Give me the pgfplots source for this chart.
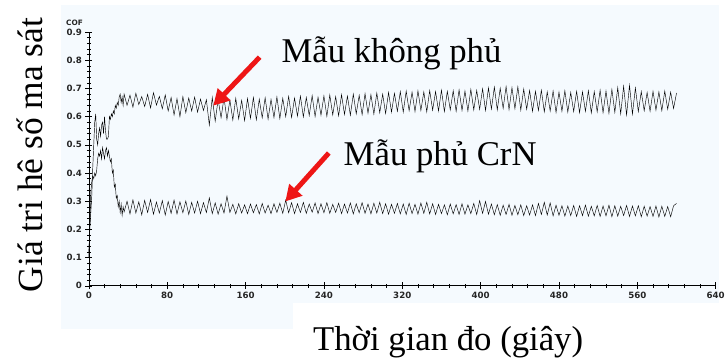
\documentclass[border=0pt]{standalone}
\usepackage{fontspec}
\setmainfont{Liberation Serif}
\newfontfamily\tickfont{DejaVu Sans}
\usepackage{pgfplots}
\pgfplotsset{compat=1.18}
\usepackage{pgfplotstable}
\usetikzlibrary{arrows.meta}
\definecolor{bgblue}{RGB}{245,250,254}
\definecolor{arrowred}{RGB}{238,22,22}

\pgfplotstableread{
t u l
0 0.12 0.10
1 0.20 0.22
2 0.26 0.33
3 0.32 0.37
4 0.42 0.39
5 0.50 0.38
6 0.58 0.40
7 0.61 0.39
8 0.52 0.41
9 0.50 0.45
10 0.54 0.47
11 0.56 0.46
12 0.53 0.48
13 0.57 0.45
14 0.58 0.49
15 0.54 0.47
16 0.60 0.45
17 0.55 0.48
18 0.52 0.49
19 0.52 0.46
20 0.53 0.48
21 0.60 0.46
22 0.59 0.44
23 0.61 0.45
24 0.60 0.40
25 0.62 0.41
26 0.61 0.35
27 0.64 0.36
28 0.63 0.31
29 0.65 0.32
30 0.64 0.28
31 0.67 0.30
32 0.68 0.26
33 0.65 0.29
34 0.67 0.25
35 0.64 0.28
36 0.680 0.262
39 0.640 0.300
42 0.676 0.255
45 0.634 0.305
48 0.683 0.258
51 0.643 0.298
54 0.671 0.252
57 0.636 0.303
60 0.679 0.260
63 0.631 0.306
66 0.685 0.254
69 0.641 0.297
72 0.672 0.258
75 0.628 0.302
78 0.677 0.251
81 0.620 0.299
84 0.668 0.257
87 0.606 0.304
90 0.664 0.255
93 0.600 0.298
96 0.671 0.259
99 0.614 0.301
102 0.666 0.253
105 0.620 0.296
108 0.669 0.258
111 0.616 0.300
114 0.662 0.256
117 0.622 0.295
120 0.660 0.260
123 0.570 0.312
126 0.668 0.256
129 0.584 0.294
132 0.661 0.254
135 0.596 0.291
138 0.667 0.258
141 0.590 0.318
144 0.659 0.260
147 0.588 0.289
150 0.665 0.255
153 0.592 0.291
156 0.658 0.258
159 0.586 0.287
162 0.664 0.256
165 0.594 0.290
168 0.668 0.259
171 0.589 0.288
174 0.662 0.255
177 0.596 0.292
180 0.667 0.258
183 0.591 0.286
186 0.661 0.256
189 0.597 0.291
192 0.670 0.260
195 0.593 0.293
198 0.665 0.257
201 0.600 0.304
204 0.672 0.259
207 0.597 0.295
210 0.666 0.256
213 0.602 0.291
216 0.673 0.260
219 0.599 0.296
222 0.668 0.257
225 0.604 0.290
228 0.675 0.261
231 0.600 0.294
234 0.669 0.256
237 0.605 0.291
240 0.674 0.259
243 0.601 0.295
246 0.677 0.257
249 0.606 0.289
252 0.671 0.260
255 0.603 0.293
258 0.678 0.256
261 0.608 0.290
264 0.673 0.258
267 0.605 0.294
270 0.680 0.255
273 0.610 0.291
276 0.676 0.259
279 0.607 0.295
282 0.682 0.257
285 0.612 0.290
288 0.678 0.255
291 0.609 0.293
294 0.684 0.258
297 0.614 0.296
300 0.680 0.256
303 0.611 0.291
306 0.686 0.254
309 0.616 0.289
312 0.683 0.257
315 0.619 0.292
318 0.689 0.255
321 0.616 0.290
324 0.691 0.253
327 0.621 0.293
330 0.687 0.256
333 0.618 0.289
336 0.692 0.254
339 0.622 0.294
342 0.688 0.257
345 0.617 0.296
348 0.693 0.255
351 0.623 0.291
354 0.689 0.253
357 0.620 0.289
360 0.694 0.256
363 0.618 0.287
366 0.690 0.252
369 0.624 0.290
372 0.692 0.255
375 0.619 0.288
378 0.695 0.253
381 0.622 0.291
384 0.691 0.254
387 0.620 0.287
390 0.697 0.256
393 0.624 0.292
396 0.693 0.253
399 0.626 0.302
402 0.699 0.257
405 0.622 0.299
408 0.702 0.254
411 0.627 0.290
414 0.705 0.252
417 0.624 0.288
420 0.701 0.250
423 0.629 0.286
426 0.707 0.253
429 0.625 0.289
432 0.703 0.250
435 0.628 0.285
438 0.706 0.252
441 0.623 0.287
444 0.698 0.249
447 0.626 0.284
450 0.693 0.251
453 0.619 0.287
456 0.690 0.249
459 0.622 0.292
462 0.694 0.253
465 0.617 0.296
468 0.688 0.251
471 0.620 0.294
474 0.691 0.248
477 0.615 0.286
480 0.687 0.250
483 0.619 0.284
486 0.692 0.247
489 0.616 0.283
492 0.686 0.249
495 0.618 0.285
498 0.690 0.246
501 0.614 0.284
504 0.688 0.249
507 0.619 0.286
510 0.692 0.247
513 0.613 0.282
516 0.689 0.248
519 0.617 0.285
522 0.694 0.246
525 0.614 0.283
528 0.691 0.248
531 0.612 0.286
534 0.697 0.245
537 0.615 0.284
540 0.703 0.247
543 0.610 0.282
546 0.708 0.249
549 0.606 0.285
552 0.711 0.246
555 0.609 0.283
558 0.702 0.248
561 0.618 0.284
564 0.689 0.245
567 0.621 0.282
570 0.686 0.247
573 0.619 0.281
576 0.690 0.246
579 0.623 0.283
582 0.688 0.244
585 0.621 0.282
588 0.691 0.246
591 0.626 0.281
594 0.687 0.245
597 0.629 0.284
600 0.684 0.292
}\cofdata

\begin{document}
\begin{tikzpicture}
\begin{scope}[x=1bp,y=1bp]
\useasboundingbox (0,0) rectangle (728,362);
\fill[bgblue] (62,29) rectangle (728,357);
\fill[white] (297,0) rectangle (728,55);
\end{scope}
\begin{axis}[
  at={(90bp,72.5bp)}, anchor=south west,
  scale only axis, width=635bp, height=257bp,
  xmin=0, xmax=640, ymin=0, ymax=0.9,
  axis x line=bottom, axis y line=left,
  axis line style={-, black, line width=0.6pt},
  xtick={0,80,160,240,320,400,480,560,640},
  xticklabels={0,80,160,240,320,400,480,560,640},
  ytick={0,0.1,0.2,0.3,0.4,0.5,0.6,0.7,0.8,0.9},
  yticklabels={0,0.1,0.2,0.3,0.4,0.5,0.6,0.7,0.8,0.9},
  minor x tick num=4, minor y tick num=4,
  tick align=center,
  major tick length=7bp, minor tick length=4bp,
  tick style={black, line width=0.5pt},
  ticklabel style={font=\tickfont\bfseries\fontsize{8.8}{9}\selectfont, text=black!85},
  xticklabel style={yshift=1bp},
  clip=false,
]
\addplot[black, line width=0.45pt] table[x=t, y=u] {\cofdata};
\addplot[black, line width=0.45pt] table[x=t, y=l] {\cofdata};
\draw[arrowred, line width=5bp, -{Triangle[length=16bp,width=17bp]}]
  (axis cs:174.4,0.811) -- (axis cs:127,0.639);
\draw[arrowred, line width=5bp, -{Triangle[length=16bp,width=17bp]}]
  (axis cs:245,0.471) -- (axis cs:200.6,0.299);
\end{axis}
\begin{scope}[x=1bp,y=1bp]
\node[font=\tickfont\bfseries\fontsize{7.5}{8}\selectfont, text=black!85] at (75.5,339) {COF};
\node[anchor=base west, inner sep=0, font=\fontsize{35.3}{40}\selectfont] at (285,299) {Mẫu không phủ};
\node[anchor=base west, inner sep=0, font=\fontsize{35.3}{40}\selectfont] at (348,194) {Mẫu phủ CrN};
\node[anchor=base west, inner sep=0, font=\fontsize{35.3}{40}\selectfont] at (317,7) {Thời gian đo (giây)};
\node[rotate=90, anchor=base, inner sep=0, font=\fontsize{36}{40}\selectfont] at (43,205) {Giá tri hê số ma sát};
\end{scope}
\end{tikzpicture}
\end{document}
